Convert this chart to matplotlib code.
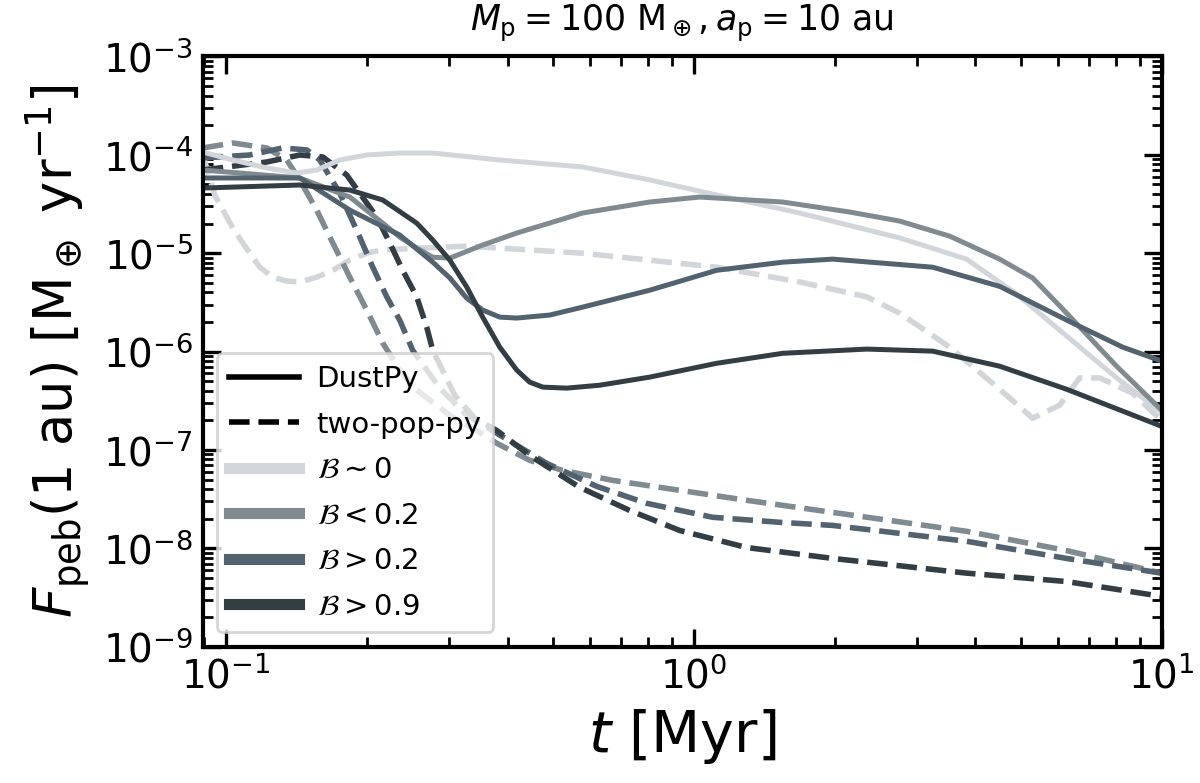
import matplotlib
matplotlib.use("Agg")
import matplotlib.pyplot as plt
from matplotlib.lines import Line2D

# colours for the four B regimes (light -> dark)
COLS = ["#d2d6da", "#808a91", "#52626e", "#323e44"]
LABELS = [r"$\mathcal{B}\sim0$", r"$\mathcal{B}<0.2$", r"$\mathcal{B}>0.2$", r"$\mathcal{B}>0.9$"]

# DustPy (solid) curves, t in Myr, F in M_earth/yr
t_s0 = [0.0893, 0.1035, 0.1224, 0.1418, 0.1564, 0.1752, 0.2001, 0.2353, 0.2769, 0.385, 0.579, 0.805,
        1.12, 1.684, 2.755, 3.831, 4.899, 6.266, 8.014, 10]
F_s0 = [1.067e-4, 8.85e-5, 7.34e-5, 6.53e-5, 7.0e-5, 8.85e-5, 9.95e-5, 1.042e-4, 1.042e-4, 8.85e-5, 7.52e-5, 5.55e-5,
        3.9e-5, 2.56e-5, 1.43e-5, 8.7e-6, 3.84e-6, 1.44e-6, 5.4e-7, 2.42e-7]

t_s1 = [0.0893, 0.1439, 0.1841, 0.2165, 0.2353, 0.2559, 0.2769, 0.3011, 0.354, 0.4184, 0.579, 0.805, 1.03,
        1.549, 2.154, 2.755, 3.524, 4.507, 5.302, 6.266, 8.014, 10]
F_s1 = [7.0e-5, 5.81e-5, 3.72e-5, 2.02e-5, 1.46e-5, 1.13e-5, 9.1e-6, 8.9e-6, 1.21e-5, 1.6e-5, 2.56e-5, 3.31e-5, 3.72e-5,
        3.31e-5, 2.62e-5, 2.12e-5, 1.49e-5, 8.7e-6, 5.6e-6, 2.46e-6, 7.1e-7, 2.54e-7]

t_s2 = [0.0893, 0.1439, 0.1841, 0.2353, 0.2769, 0.3011, 0.3273, 0.354, 0.385, 0.4184, 0.4924, 0.579, 0.805,
        1.12, 1.549, 1.982, 3.241, 4.507, 6.266, 8.254, 10]
F_s2 = [5.81e-5, 5.81e-5, 2.74e-5, 1.53e-5, 8.1e-6, 5.6e-6, 3.49e-6, 2.64e-6, 2.24e-6, 2.19e-6, 2.35e-6, 2.83e-6, 4.2e-6,
        6.7e-6, 8.1e-6, 8.7e-6, 7.2e-6, 4.6e-6, 2.09e-6, 1.11e-6, 8.0e-7]

t_s3 = [0.0893, 0.1439, 0.1841, 0.2165, 0.2559, 0.2769, 0.3011, 0.3273, 0.354, 0.385, 0.4184, 0.4461, 0.4759,
        0.5354, 0.6296, 0.8053, 1.12, 1.549, 2.343, 3.241, 4.507, 6.266, 10]
F_s3 = [4.59e-5, 4.93e-5, 4.38e-5, 3.47e-5, 2.02e-5, 1.36e-5, 8.5e-6, 4.53e-6, 2.24e-6, 1.11e-6, 6.5e-7, 4.89e-7, 4.35e-7,
        4.25e-7, 4.55e-7, 5.5e-7, 7.6e-7, 9.6e-7, 1.06e-6, 1.01e-6, 7.1e-7, 4.14e-7, 1.74e-7]

# two-pop-py (dashed) curves
t_d0 = [0.0893, 0.0947, 0.1035, 0.1087, 0.1182, 0.126, 0.135, 0.1439, 0.1564, 0.1693, 0.1841, 0.2001, 0.2165,
        0.3273, 0.579, 1.12, 1.684, 2.343, 2.755, 3.524, 4.507, 5.302, 6.054, 6.68, 7.371, 8.67, 10]
F_d0 = [1.0e-4, 3.9e-5, 1.8e-5, 1.27e-5, 7.2e-6, 5.7e-6, 5.2e-6, 5.1e-6, 5.7e-6, 6.7e-6, 8.5e-6, 1.0e-5, 1.08e-5,
        1.18e-5, 1.0e-5, 7.2e-6, 5.1e-6, 3.6e-6, 2.46e-6, 1.11e-6, 4.14e-7, 2.1e-7, 2.85e-7, 5.4e-7, 5.4e-7, 3.78e-7, 2.0e-7]

t_d1 = [0.0893, 0.1035, 0.1224, 0.135, 0.1439, 0.1564, 0.1693, 0.1841, 0.2001, 0.2165, 0.2353, 0.2559, 0.3011,
        0.3488, 0.3794, 0.4461, 0.5249, 0.6713, 0.9334, 1.298, 1.982, 3.831, 6.266, 10]
F_d1 = [1.173e-4, 1.318e-4, 1.173e-4, 8.85e-5, 5.55e-5, 2.74e-5, 1.27e-5, 5.7e-6, 2.64e-6, 1.22e-6, 6.5e-7, 4.05e-7, 2.25e-7,
        1.51e-7, 1.17e-7, 7.85e-8, 6.2e-8, 4.91e-8, 3.89e-8, 3.08e-8, 2.32e-8, 1.49e-8, 9.5e-9, 5.6e-9]

t_d2 = [0.0893, 0.1125, 0.1323, 0.149, 0.1588, 0.1752, 0.1933, 0.2061, 0.2208, 0.2353, 0.2509, 0.2866, 0.3273,
        0.3794, 0.4853, 0.6203, 0.7935, 1.098, 1.526, 1.982, 3.831, 6.266, 10]
F_d2 = [9.28e-5, 9.95e-5, 1.173e-4, 1.12e-4, 8.85e-5, 4.08e-5, 1.46e-5, 7.2e-6, 3.6e-6, 2.09e-6, 1.03e-6, 4.25e-7, 2.25e-7,
        1.48e-7, 7.3e-8, 4.27e-8, 2.87e-8, 2.07e-8, 1.84e-8, 1.71e-8, 1.18e-8, 7.9e-9, 5.6e-9]

t_d3 = [0.0893, 0.1224, 0.1439, 0.1612, 0.1813, 0.2102, 0.2241, 0.2388, 0.2559, 0.2688, 0.2769, 0.3085, 0.3404,
        0.3794, 0.4461, 0.5706, 0.7296, 0.9334, 1.298, 1.982, 3.831, 6.266, 10]
F_d3 = [7.0e-5, 8.45e-5, 9.95e-5, 9.5e-5, 6.23e-5, 2.33e-5, 1.27e-5, 6.7e-6, 3.6e-6, 1.77e-6, 1.03e-6, 3.6e-7, 2.1e-7,
        1.58e-7, 8.8e-8, 4.17e-8, 2.43e-8, 1.52e-8, 1.02e-8, 7.9e-9, 5.6e-9, 4.6e-9, 3.25e-9]

solid = [(t_s0, F_s0), (t_s1, F_s1), (t_s2, F_s2), (t_s3, F_s3)]
dashed = [(t_d0, F_d0), (t_d1, F_d1), (t_d2, F_d2), (t_d3, F_d3)]

fig = plt.figure(figsize=(6, 3.915), dpi=200)
ax = fig.add_axes([0.169, 0.174, 0.799, 0.754])

for (t, F), c in zip(dashed, COLS):
    ax.plot(t, F, ls="--", color=c, lw=2.0)
for (t, F), c in zip(solid, COLS):
    ax.plot(t, F, ls="-", color=c, lw=1.8)

ax.set_xscale("log"); ax.set_yscale("log")
ax.set_xlim(0.0893, 10); ax.set_ylim(1e-9, 1e-3)
ax.set_xlabel(r"$t$ [Myr]", fontsize=20.5)
ax.set_ylabel(r"$F_\mathrm{peb}(1\ \mathrm{au})$ [M$_\oplus$ yr$^{-1}$]", fontsize=19)
ax.set_title(r"$M_\mathrm{p}=100\ \mathrm{M}_\oplus, a_\mathrm{p}=10$ au", fontsize=12.5, pad=9)
ax.tick_params(which="both", direction="in", top=True, right=True, labelsize=14)
ax.tick_params(which="major", length=6.5, width=1.2)
ax.tick_params(which="minor", length=3.5, width=1.0)
for s in ax.spines.values():
    s.set_linewidth(1.5)

handles = [Line2D([], [], color="k", lw=2, ls="-"), Line2D([], [], color="k", lw=2, ls="--")]
handles += [Line2D([], [], color=c, lw=4) for c in COLS]
ax.legend(handles, ["DustPy", "two-pop-py"] + LABELS, loc="lower left", fontsize=10.5,
          handlelength=2.4, handletextpad=0.6, labelspacing=0.6)

fig.savefig("out.png", dpi=200)
